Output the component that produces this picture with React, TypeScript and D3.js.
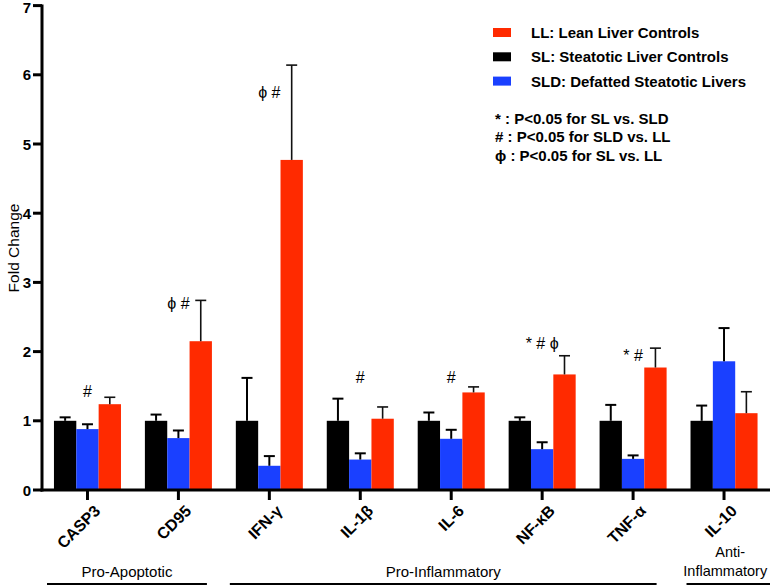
import React from "react";
import * as d3 from "d3";

const categories = ["CASP3", "CD95", "IFN-γ", "IL-1β", "IL-6", "NF-κB", "TNF-α", "IL-10"];
const seriesNames = ["SL", "SLD", "LL"];
const slMean = [1, 1, 1, 1, 1, 1, 1, 1];
const slErr = [0.05, 0.09, 0.62, 0.32, 0.12, 0.05, 0.23, 0.22];
const sldMean = [0.88, 0.75, 0.35, 0.44, 0.74, 0.59, 0.45, 1.86];
const sldErr = [0.07, 0.11, 0.14, 0.09, 0.13, 0.1, 0.05, 0.48];
const llMean = [1.24, 2.15, 4.77, 1.03, 1.41, 1.67, 1.77, 1.11];
const llErr = [0.1, 0.59, 1.37, 0.17, 0.08, 0.27, 0.28, 0.31];
const sigLabels = ["#", "ϕ #", "ϕ #", "#", "#", "* # ϕ", "* #", ""];
const sigLevel = [1.43, 2.7, 5.75, 1.62, 1.62, 2.12, 1.95, 0];
const yTicks = [0, 1, 2, 3, 4, 5, 6, 7];
const legendItems = [
  { key: "LL", label: "LL: Lean Liver Controls" },
  { key: "SL", label: "SL: Steatotic Liver Controls" },
  { key: "SLD", label: "SLD: Defatted Steatotic Livers" },
];
const notes = ["* : P<0.05 for SL vs. SLD", "# : P<0.05 for SLD vs. LL", "ϕ : P<0.05 for SL vs. LL"];
const groups = [
  { lines: ["Pro-Apoptotic"], from: 0, to: 1 },
  { lines: ["Pro-Inflammatory"], from: 2, to: 6 },
  { lines: ["Anti-", "Inflammatory"], from: 7, to: 7 },
];
// bracket line trims (styling) relative to the band edges
const groupTrim = [
  [0, -5],
  [-6, -10],
  [-4, 0],
];

const colors: Record<string, string> = { SL: "#000000", SLD: "#1a40ff", LL: "#ff2a00" };
const FONT = "Arial, 'Liberation Sans', Helvetica, sans-serif";

export default function App() {
  const W = 770, H = 587;
  const axisX = 42;
  const y = d3.scaleLinear().domain([0, 7]).range([490, 5.6]);
  const x = d3.scaleBand<string>().domain(categories).range([axisX, 769.5]).paddingInner(0.263).paddingOuter(0.1315);
  const xs = d3.scaleBand<string>().domain(seriesNames).range([0, x.bandwidth()]);
  const data: Record<string, { m: number[]; e: number[] }> = {
    SL: { m: slMean, e: slErr },
    SLD: { m: sldMean, e: sldErr },
    LL: { m: llMean, e: llErr },
  };
  const cx = (c: string) => (x(c) as number) + x.bandwidth() / 2;

  return (
    <svg width={W} height={H} style={{ position: "absolute", left: 0, top: 0, background: "#fff" }} fontFamily={FONT}>
      {/* bars */}
      {categories.map((c, i) => (
        <g key={c}>
          {seriesNames.map((s) => {
            const bx = (x(c) as number) + (xs(s) as number);
            const bw = xs.bandwidth();
            const v = data[s].m[i];
            const top = y(v);
            const et = y(v + data[s].e[i]);
            const mid = bx + bw / 2;
            const sc = s === "LL" ? "#111" : "#000";
            const sw = s === "LL" ? 1.6 : 2;
            return (
              <g key={s}>
                <rect x={bx} y={top} width={bw} height={y(0) - top} fill={colors[s]} />
                <line x1={mid} x2={mid} y1={top} y2={et} stroke={sc} strokeWidth={sw} />
                <line x1={mid - 5.5} x2={mid + 5.5} y1={et} y2={et} stroke={sc} strokeWidth={sw} />
              </g>
            );
          })}
          {sigLabels[i] && (
            <text x={cx(c)} y={y(sigLevel[i])} textAnchor="middle" dominantBaseline="central" fontSize={16} fill="#000">
              {sigLabels[i]}
            </text>
          )}
        </g>
      ))}

      {/* y axis */}
      <line x1={axisX} x2={axisX} y1={y(7) - 1} y2={y(0) + 1.5} stroke="#000" strokeWidth={3} />
      {yTicks.map((t) => (
        <g key={t}>
          <line x1={axisX - 9} x2={axisX} y1={y(t)} y2={y(t)} stroke="#000" strokeWidth={3} />
          <text x={axisX - 11} y={y(t) + (t === 7 ? 1.5 : 0)} textAnchor="end" dominantBaseline="central" fontSize={15} fontWeight="bold">
            {t}
          </text>
        </g>
      ))}
      <text transform={`translate(13,${248}) rotate(-90)`} textAnchor="middle" dominantBaseline="central" fontSize={15.5}>
        Fold Change
      </text>

      {/* x axis */}
      <line x1={axisX - 1.5} x2={W} y1={y(0)} y2={y(0)} stroke="#000" strokeWidth={3} />
      {categories.map((c) => (
        <g key={c}>
          <line x1={cx(c)} x2={cx(c)} y1={y(0)} y2={y(0) + 10} stroke="#000" strokeWidth={3} />
          <text
            transform={`translate(${cx(c) + 10},${y(0) + 18}) rotate(-45)`}
            textAnchor="end"
            dominantBaseline="central"
            fontSize={16}
            fontWeight="bold"
          >
            {c}
          </text>
        </g>
      ))}

      {/* group labels */}
      {groups.map((g, gi) => {
        const x0 = gi === 0 ? axisX + 5 : (x(categories[g.from]) as number) + groupTrim[gi][0];
        const x1 = gi === groups.length - 1 ? W : (x(categories[g.to]) as number) + x.bandwidth() + groupTrim[gi][1];
        const mid = gi === 2 ? (x0 + x1) / 2 - 3 : (x0 + x1) / 2;
        return (
          <g key={gi}>
            {g.lines.map((l, li) => (
              <text
                key={li}
                x={mid + (gi === 2 && li === 0 ? 5 : 0)}
                y={571 - (g.lines.length - 1 - li) * 19}
                textAnchor="middle"
                dominantBaseline="central"
                fontSize={gi === 2 ? 14.5 : 15}
              >
                {l}
              </text>
            ))}
            <line x1={x0} x2={x1} y1={584} y2={584} stroke="#000" strokeWidth={2} />
          </g>
        );
      })}

      {/* legend */}
      {legendItems.map((it, i) => (
        <g key={it.key} transform={`translate(493,${32.5 + i * 24.3})`}>
          <rect x={0} y={-4.5} width={18} height={9} fill={colors[it.key]} />
          <text x={38} y={0} dominantBaseline="central" fontSize={15} fontWeight="bold">
            {it.label}
          </text>
        </g>
      ))}
      {notes.map((n, i) => (
        <text key={i} x={495} y={118.5 + i * 18.4} dominantBaseline="central" fontSize={15} fontWeight="bold">
          {n}
        </text>
      ))}
    </svg>
  );
}
